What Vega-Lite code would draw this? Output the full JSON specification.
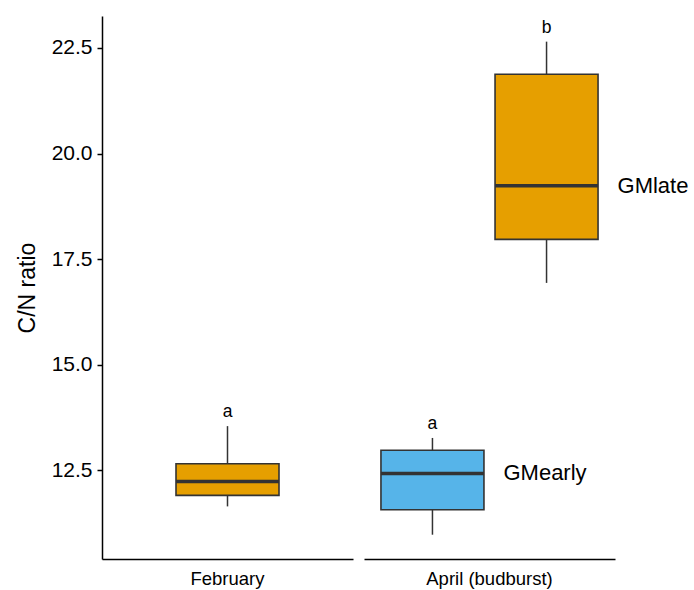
{
  "$schema": "https://vega.github.io/schema/vega-lite/v6.json",
  "padding": {"left": 16, "top": 16, "right": 0, "bottom": 5},
  "bounds": "flush",
  "data": {"values": [
    {"month": "February", "group": "GMlate", "lower": 11.65, "q1": 11.91, "median": 12.24, "q3": 12.66, "upper": 13.55, "letter": "a", "label": ""},
    {"month": "April (budburst)", "group": "GMearly", "lower": 10.98, "q1": 11.57, "median": 12.43, "q3": 12.98, "upper": 13.27, "letter": "a", "label": "GMearly"},
    {"month": "April (budburst)", "group": "GMlate", "lower": 16.94, "q1": 17.97, "median": 19.24, "q3": 21.88, "upper": 22.65, "letter": "b", "label": "GMlate"}
  ]},
  "facet": {
    "column": {
      "field": "month", "type": "nominal",
      "sort": ["February", "April (budburst)"],
      "title": null,
      "header": {"labelOrient": "bottom", "labelFont": "Liberation Sans", "labelFontSize": 18.5, "labelColor": "black", "labelPadding": 11}
    }
  },
  "spacing": 11,
  "resolve": {"scale": {"x": "independent"}},
  "spec": {
    "width": 251,
    "height": 543,
    "encoding": {
      "x": {
        "field": "group", "type": "nominal",
        "scale": {"type": "point", "padding": 0.6},
        "axis": {"title": null, "labels": false, "ticks": false, "domainColor": "black", "domainWidth": 1.5}
      }
    },
    "layer": [
      {
        "mark": {"type": "rule", "color": "#333333", "strokeWidth": 1.5},
        "encoding": {
          "y": {
            "field": "lower", "type": "quantitative",
            "scale": {"domain": [10.405, 23.257], "nice": false, "zero": false},
            "title": "C/N ratio",
            "axis": {
              "values": [12.5, 15, 17.5, 20, 22.5], "format": ".1f", "grid": false,
              "labelFontSize": 21, "labelColor": "black", "labelPadding": 5,
              "tickSize": 5, "tickColor": "black", "tickWidth": 1.5,
              "domainColor": "black", "domainWidth": 1.5,
              "titleFontSize": 23, "titleFontWeight": "normal", "titleColor": "black", "titlePadding": 12
            }
          },
          "y2": {"field": "upper"}
        }
      },
      {
        "mark": {"type": "bar", "size": 103, "stroke": "#333333", "strokeWidth": 1.6},
        "encoding": {
          "y": {"field": "q1", "type": "quantitative"},
          "y2": {"field": "q3"},
          "color": {"field": "group", "type": "nominal", "scale": {"domain": ["GMearly", "GMlate"], "range": ["#56B4E9", "#E69F00"]}, "legend": null}
        }
      },
      {
        "mark": {"type": "tick", "color": "#333333", "size": 103, "thickness": 3.5, "opacity": 1},
        "encoding": {"y": {"field": "median", "type": "quantitative"}}
      },
      {
        "mark": {"type": "text", "baseline": "bottom", "dy": -5, "fontSize": 17.5, "color": "black"},
        "encoding": {"y": {"field": "upper", "type": "quantitative"}, "text": {"field": "letter"}}
      },
      {
        "mark": {"type": "text", "align": "left", "baseline": "middle", "dx": 71, "fontSize": 22, "color": "black"},
        "encoding": {"y": {"field": "median", "type": "quantitative"}, "text": {"field": "label"}}
      }
    ]
  },
  "config": {"view": {"stroke": null}, "font": "Liberation Sans"}
}
